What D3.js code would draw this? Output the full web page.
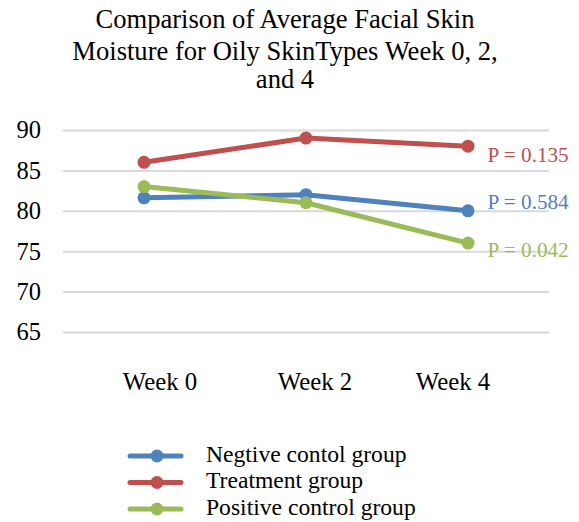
<!DOCTYPE html>
<html>
<head>
<meta charset="utf-8">
<script src="https://cdn.jsdelivr.net/npm/d3@7"></script>
<style>
  html, body { margin: 0; padding: 0; background: #fff; }
  svg { display: block; font-family: "Liberation Serif", "Times New Roman", serif; }
</style>
</head>
<body>
<svg id="chart" width="579" height="522"></svg>
<script>
// Data
const weeks = ["Week 0", "Week 2", "Week 4"];
const negativeControl = [81.6, 82, 80];
const treatment = [86, 89, 88];
const positiveControl = [83, 81, 76];
const seriesNames = ["Negtive contol group", "Treatment group", "Positive control group"];
const pValues = ["P = 0.135", "P = 0.584", "P = 0.042"]; // treatment, negative, positive
const yTicks = [65, 70, 75, 80, 85, 90];
const titleLines = ["Comparison of Average Facial Skin", "Moisture for Oily SkinTypes Week 0, 2,", "and 4"];

const colors = { neg: "#4F81BD", trt: "#C0504D", pos: "#9BBB59" };

const svg = d3.select("#chart");
const plot = { left: 63, right: 549, top: 130, bottom: 332 };

const x = d3.scaleBand().domain(weeks).range([plot.left, plot.right]);
const y = d3.scaleLinear().domain([65, 90]).range([plot.bottom, plot.top]);
const cx = d => x(d) + x.bandwidth() / 2;

// Title
const titleBaselines = [27.5, 59.5, 88];
svg.append("g").selectAll("text")
  .data(titleLines).join("text")
  .attr("x", 285)
  .attr("y", (d, i) => titleBaselines[i])
  .attr("text-anchor", "middle")
  .attr("font-size", 26.6)
  .attr("fill", "#000")
  .text(d => d);

// Gridlines and y labels
const yAxis = d3.axisLeft(y).tickValues(yTicks).tickSize(-(plot.right - plot.left)).tickPadding(22);
const gy = svg.append("g").attr("transform", `translate(${plot.left},0)`).call(yAxis);
gy.select(".domain").remove();
gy.selectAll(".tick line").attr("stroke", "#D9D9D9").attr("stroke-width", 2);
gy.selectAll(".tick text").attr("font-size", 24.5).attr("font-family", "Liberation Serif, serif").attr("fill", "#000");

// x labels
const labelNudge = [16, 9, -15];
const gx = svg.append("g").attr("transform", `translate(0,${plot.bottom})`)
  .call(d3.axisBottom(x).tickSize(0).tickPadding(0));
gx.select(".domain").remove();
gx.selectAll(".tick text")
  .attr("font-size", 24.8)
  .attr("font-family", "Liberation Serif, serif")
  .attr("fill", "#000")
  .attr("dy", null)
  .attr("y", 58)
  .attr("x", (d, i) => labelNudge[i]);

// Series
const series = [
  { key: "neg", name: seriesNames[0], values: negativeControl },
  { key: "trt", name: seriesNames[1], values: treatment },
  { key: "pos", name: seriesNames[2], values: positiveControl }
];

const line = d3.line().x((d, i) => cx(weeks[i])).y(d => y(d));

const gs = svg.append("g").selectAll("g").data(series).join("g");
gs.append("path")
  .attr("d", d => line(d.values))
  .attr("fill", "none")
  .attr("stroke", d => colors[d.key])
  .attr("stroke-width", 5)
  .attr("stroke-linecap", "round")
  .attr("stroke-linejoin", "round");
gs.selectAll("circle").data(d => d.values.map(v => ({ v, c: colors[d.key] })))
  .join("circle")
  .attr("cx", (d, i) => cx(weeks[i]))
  .attr("cy", d => y(d.v))
  .attr("r", 6.5)
  .attr("fill", d => d.c);

// P-value labels next to the last point of each series
const pLabels = [
  { text: pValues[0], v: treatment[2], c: colors.trt, dy: 16.3 },
  { text: pValues[1], v: negativeControl[2], c: colors.neg, dy: -1.5 },
  { text: pValues[2], v: positiveControl[2], c: colors.pos, dy: 13.7 }
];
svg.append("g").selectAll("text").data(pLabels).join("text")
  .attr("x", cx(weeks[2]) + 19.5)
  .attr("y", d => y(d.v) + d.dy)
  .attr("font-size", 21.2)
  .attr("fill", d => d.c)
  .text(d => d.text);

// Legend
const legend = svg.append("g").selectAll("g").data(series).join("g")
  .attr("transform", (d, i) => `translate(0,${456 + i * 26.5})`);
legend.append("line")
  .attr("x1", 130).attr("x2", 181)
  .attr("stroke", d => colors[d.key])
  .attr("stroke-width", 5)
  .attr("stroke-linecap", "round");
legend.append("circle").attr("cx", 157).attr("r", 6.5).attr("fill", d => colors[d.key]);
legend.append("text")
  .attr("x", 206).attr("y", 5.5)
  .attr("font-size", 23.6)
  .attr("fill", "#000")
  .text(d => d.name);
</script>
</body>
</html>
